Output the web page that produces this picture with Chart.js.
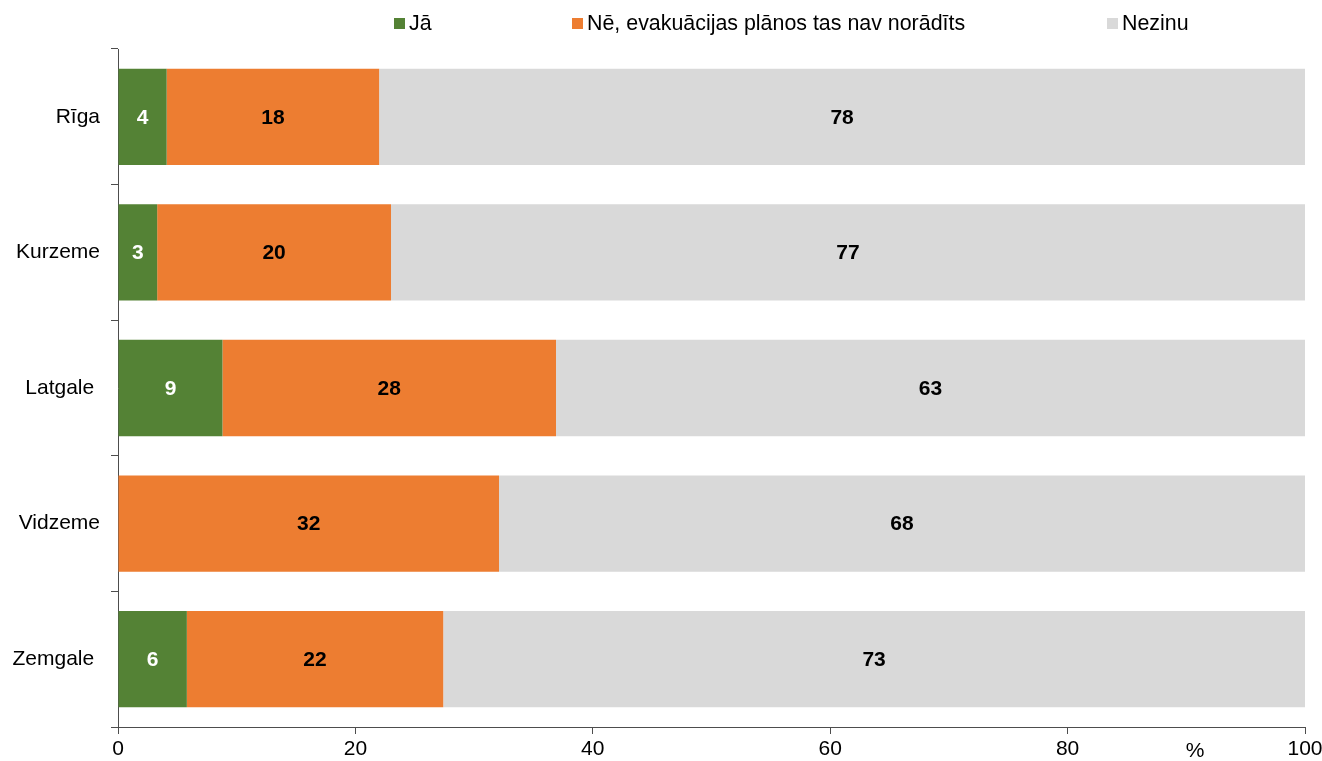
<!DOCTYPE html>
<html>
<head>
<meta charset="utf-8">
<script src="https://cdn.jsdelivr.net/npm/chart.js@4/dist/chart.umd.min.js"></script>
<style>
html,body{margin:0;padding:0;background:#fff;}
#wrap{width:1322px;height:761px;position:relative;}
</style>
</head>
<body>
<div id="wrap"><canvas id="c" width="1322" height="761"></canvas></div>
<script>
const categories = ['Rīga', 'Kurzeme', 'Latgale ', 'Vidzeme', 'Zemgale '];
const seriesNames = ['Jā', 'Nē, evakuācijas plānos tas nav norādīts', 'Nezinu'];
const jaValues = [4.1, 3.3, 8.8, 0, 5.8];
const neValues = [17.9, 19.7, 28.1, 32.1, 21.6];
const nezinuValues = [78, 77, 63.1, 67.9, 72.6];
const xTicks = [0, 20, 40, 60, 80, 100];
const unitLabel = '%';

const colors = ['#548235', '#ED7D31', '#D9D9D9'];
const labelColors = ['#ffffff', '#000000', '#000000'];
const FONT = '"Liberation Sans", Arial, sans-serif';

const labelPlugin = {
  id: 'barLabels',
  afterDatasetsDraw(chart) {
    const ctx = chart.ctx;
    ctx.save();
    ctx.font = 'bold 21px ' + FONT;
    ctx.textAlign = 'center';
    ctx.textBaseline = 'middle';
    chart.data.datasets.forEach((ds, di) => {
      const meta = chart.getDatasetMeta(di);
      meta.data.forEach((el, i) => {
        const v = ds.data[i];
        if (!v) return;
        const cx = (el.x + el.base) / 2;
        ctx.fillStyle = labelColors[di];
        ctx.fillText(String(Math.round(v)), cx, el.y + 1);
      });
    });
    ctx.restore();
  }
};

const legendPlugin = {
  id: 'customLegend',
  afterDraw(chart) {
    const ctx = chart.ctx;
    const xs = [394, 572, 1107];
    ctx.save();
    ctx.font = '21.4px ' + FONT;
    ctx.textBaseline = 'middle';
    ctx.textAlign = 'left';
    seriesNames.forEach((n, i) => {
      ctx.fillStyle = colors[i];
      ctx.fillRect(xs[i], 18, 11, 11);
      ctx.fillStyle = '#000';
      ctx.fillText(n, xs[i] + 15, 24);
    });
    ctx.font = '21px ' + FONT;
    ctx.textAlign = 'center';
    ctx.fillText(unitLabel, 1195, 751);
    ctx.restore();
  }
};

new Chart(document.getElementById('c'), {
  type: 'bar',
  data: {
    labels: categories,
    datasets: [
      { label: seriesNames[0], data: jaValues, backgroundColor: colors[0] },
      { label: seriesNames[1], data: neValues, backgroundColor: colors[1] },
      { label: seriesNames[2], data: nezinuValues, backgroundColor: colors[2] }
    ].map(d => Object.assign(d, { categoryPercentage: 1, barPercentage: 0.71, borderWidth: 0 }))
  },
  options: {
    indexAxis: 'y',
    responsive: false,
    animation: false,
    devicePixelRatio: 1,
    layout: { padding: { top: 49, right: 17, left: 0, bottom: 0 } },
    plugins: { legend: { display: false }, tooltip: { enabled: false } },
    scales: {
      x: {
        stacked: true,
        min: 0, max: 100,
        afterBuildTicks(scale) { scale.ticks = xTicks.map(v => ({ value: v })); },
        afterFit(scale) { scale.height = 34; scale.paddingRight = 0; scale.paddingLeft = 0; },
        grid: { drawOnChartArea: false, drawTicks: true, tickLength: 7, color: '#4d4d4d' },
        border: { color: '#4d4d4d', width: 1 },
        ticks: { color: '#000', font: { family: FONT, size: 21 }, padding: 3, maxRotation: 0 }
      },
      y: {
        stacked: true,
        afterFit(scale) { scale.width = 118; scale.paddingTop = 0; scale.paddingBottom = 0; },
        grid: { offset: true, drawOnChartArea: false, drawTicks: true, tickLength: 7, color: '#4d4d4d' },
        border: { color: '#4d4d4d', width: 1 },
        ticks: { color: '#000', font: { family: FONT, size: 21 }, padding: 11 }
      }
    }
  },
  plugins: [labelPlugin, legendPlugin]
});
</script>
</body>
</html>
